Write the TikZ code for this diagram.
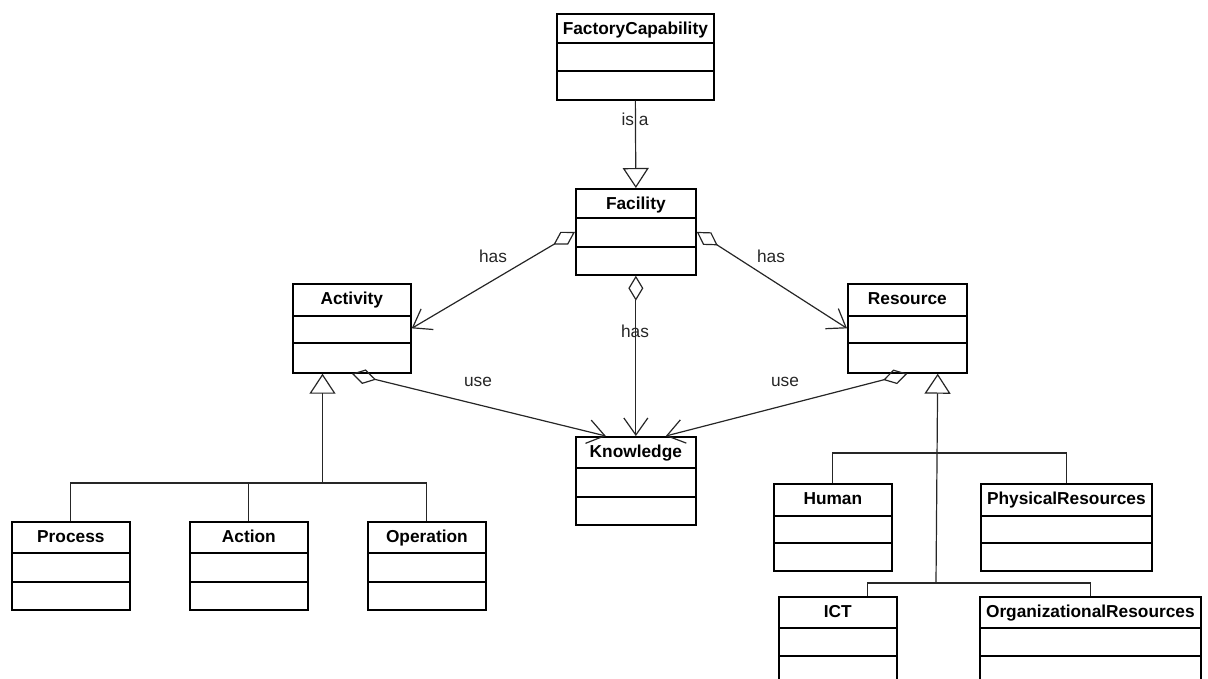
\documentclass[tikz,border=0pt]{standalone}
\usepackage{fontspec}
\setmainfont{Liberation Sans}
\usetikzlibrary{arrows.meta,calc}

\tikzset{
  classbox/.style={draw=black, line width=1.7pt, fill=white, inner sep=0pt, rectangle},
  classrule/.style={draw=black, line width=1.7pt},
  classtitle/.style={inner sep=0pt, font=\bfseries\fontsize{17.3}{20}\selectfont, text=black},
  conn/.style={draw=black!85, line width=1.2pt},
  agg/.style={conn, {Diamond[open, length=25pt, width=15pt]}-{Straight Barb[length=17pt, width=24pt]}},
  gen/.style={conn, -{Triangle[open, length=20pt, width=26pt]}},
  rolelabel/.style={inner sep=0pt, anchor=base, font=\fontsize{17.3}{20}\selectfont, text=black!85}
}

% UML class box: name, left, top, width, height, first rule, second rule, title
\newcommand\umlclass[8]{%
  \node[classbox, minimum width=#4pt, minimum height=#5pt, anchor=north west] (#1) at (#2,#3) {};
  \node[classtitle, anchor=base] (#1-title) at ($(#1.north)+(0,21)$) {#8};
  \draw[classrule] ($(#1.north west)+(0,#6)$) -- ($(#1.north east)+(0,#6)$);
  \draw[classrule] ($(#1.north west)+(0,#7)$) -- ($(#1.north east)+(0,#7)$);
}

\begin{document}
\begin{tikzpicture}[x=1pt, y=-1pt]
  \useasboundingbox (0,0) rectangle (1208,678);
  \clip (0,0) rectangle (1208,678);

  % classes
  \umlclass{fc}{556}{13}{157}{86}{30}{58}{FactoryCapability}
  \umlclass{facility}{575}{188}{120}{86}{30}{59}{Facility}
  \umlclass{activity}{292}{283}{118}{89}{33}{60}{Activity}
  \umlclass{resource}{847}{283}{119}{89}{33}{60}{Resource}
  \umlclass{knowledge}{575}{436}{120}{88}{32}{61}{Knowledge}
  \umlclass{process}{11}{521}{118}{88}{32}{61}{Process}
  \umlclass{action}{189}{521}{118}{88}{32}{61}{Action}
  \umlclass{operation}{367}{521}{118}{88}{32}{61}{Operation}
  \umlclass{human}{773}{483}{118}{87}{33}{60}{Human}
  \umlclass{physical}{980}{483}{171}{87}{33}{60}{PhysicalResources}
  \umlclass{ict}{778}{596}{118}{88}{32}{60}{ICT}
  \umlclass{orgres}{979}{596}{221}{88}{32}{60}{OrganizationalResources}

  % inheritance
  \draw[gen] (fc.south) -- (facility.north);
  \node[rolelabel] (isa) at (635,125) {is a};

  \coordinate (actbar) at (322.5,483);
  \draw[conn] (process.north) |- (actbar) -| (operation.north);
  \draw[conn] (action.north) -- (action.north |- actbar);
  \draw[gen] (actbar) -- ($(activity.south west)+(30.5,0)$);

  \coordinate (resbarA) at (936,453);
  \coordinate (resbarB) at (936,583);
  \coordinate (icttop) at ($(ict.north)+(30,0)$);
  \draw[conn] (human.north) |- (resbarA) -| (physical.north);
  \draw[conn] (icttop) |- (resbarB) -| (orgres.north);
  \draw[gen] (resbarB) -- ($(resource.south east)+(-30,0)$);

  % aggregations
  \draw[agg] (facility.west) -- (activity.east);
  \draw[agg] (facility.east) -- (resource.west);
  \draw[agg] (facility.south) -- (knowledge.north);
  \draw[agg] (activity.south) -- ($(knowledge.north)+(-30,0)$);
  \draw[agg] (resource.south) -- ($(knowledge.north)+(30,0)$);

  \node[rolelabel] (hasA) at (493,262) {has};
  \node[rolelabel] (hasR) at (771,262) {has};
  \node[rolelabel] (hasK) at (635,337) {has};
  \node[rolelabel] (useA) at (478,386) {use};
  \node[rolelabel] (useR) at (785,386) {use};
\end{tikzpicture}
\end{document}
